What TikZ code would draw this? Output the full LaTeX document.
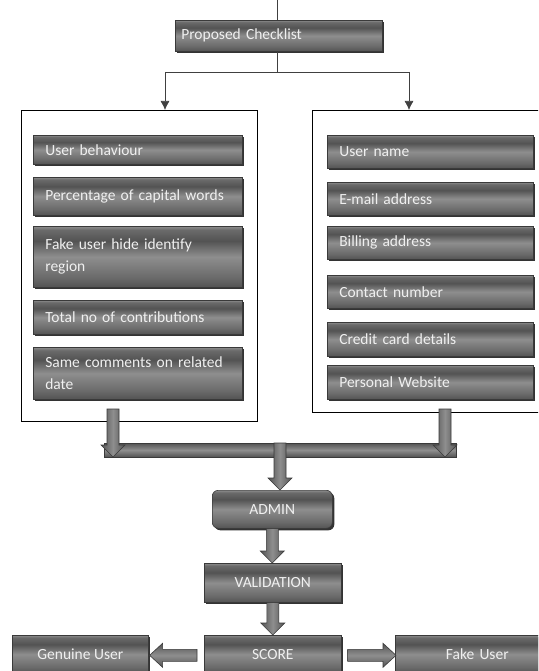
\documentclass[tikz,border=0pt]{standalone}
\usepackage{fontspec}
\setmainfont{Carlito}
\usetikzlibrary{calc,shadows,arrows.meta}
\definecolor{gdark}{HTML}{535353}
\definecolor{gmid}{HTML}{6A6A6A}
\definecolor{glight}{HTML}{8E8E8E}
\definecolor{gedge}{HTML}{3A3A3A}
\pgfdeclareverticalshading{glossy}{100bp}{color(0bp)=(gdark); color(25bp)=(gdark); color(33bp)=(gmid); color(50bp)=(glight); color(63bp)=(gdark); color(72bp)=(gmid); color(75bp)=(glight); color(100bp)=(glight)}
\pgfdeclarehorizontalshading{glossyh}{100bp}{color(0bp)=(gdark); color(25bp)=(gdark); color(50bp)=(glight); color(75bp)=(gdark); color(100bp)=(gdark)}
\pgfdeclareverticalshading{glossyv}{100bp}{color(0bp)=(gdark); color(25bp)=(gdark); color(50bp)=(glight); color(75bp)=(gdark); color(100bp)=(gdark)}
\tikzset{
  gbox/.style={draw=gedge, line width=0.6pt, shading=glossy, text=white!94!black,
    font=\fontsize{15.5}{22}\selectfont, inner xsep=0pt, inner ysep=0pt,
    general shadow={shadow xshift=2pt, shadow yshift=-2pt, fill=black!80}},
  lbox/.style={gbox, anchor=north west, minimum width=209pt, text width=185pt, align=left},
  rbox/.style={gbox, anchor=north west, minimum width=206pt, text width=182pt, align=left},
  cbox/.style={gbox, anchor=north west, align=center},
  container/.style={draw=black, line width=0.9pt},
  conn/.style={draw=black!75, line width=0.7pt},
  tip/.style={-{Latex[length=9pt,width=9pt]}},
  barrowv/.style={draw=gedge, line width=0.6pt, shading=glossyh},
  barrowh/.style={draw=gedge, line width=0.6pt, shading=glossyv},
}
% vertical block arrow from #1 down to #2 (same x as #1)
\newcommand{\varrow}[2]{%
  \path[barrowv] let \p1=(#1), \p2=(#2) in
    (\x1-6pt,\y1) -- (\x1+6pt,\y1) -- (\x1+6pt,\y2+12pt) -- (\x1+12pt,\y2+12pt)
    -- (\x1,\y2) -- (\x1-12pt,\y2+12pt) -- (\x1-6pt,\y2+12pt) -- cycle;}
% horizontal block arrow from #1 to #2 (same y as #1); #3 = +1 right, -1 left
\newcommand{\harrow}[3]{%
  \path[barrowh] let \p1=(#1), \p2=(#2) in
    (\x1,\y1+6pt) -- (\x2-#3*13pt,\y1+6pt) -- (\x2-#3*13pt,\y1+12pt) -- (\x2,\y1)
    -- (\x2-#3*13pt,\y1-12pt) -- (\x2-#3*13pt,\y1-6pt) -- (\x1,\y1-6pt) -- cycle;}
\begin{document}
\begin{tikzpicture}[x=1pt,y=-1pt]
\useasboundingbox (0,0) rectangle (538,671);
\clip (0,0) rectangle (538,671);
\fill[white] (0,0) rectangle (538,671);

% top
\coordinate (top) at (277,0);
\node[gbox, anchor=north west, minimum width=207pt, minimum height=31pt, text width=195pt, align=left] (pc) at (175,20) {Proposed Checklist};
\coordinate (split) at (277,72);
\coordinate (lsplit) at (165,72);
\coordinate (rsplit) at (409,72);
\draw[conn] (top) -- (top |- pc.north);
\draw[conn] (split |- pc.south) -- (split);
\draw[conn] (lsplit) -- (rsplit);

% containers
\draw[container] (21,110) rectangle (257,421);
\draw[container] (312,110) rectangle (545,412);
\coordinate (lc) at (165,110);
\coordinate (rc) at (409,110);
\draw[conn,tip] (lsplit) -- (lc);
\draw[conn,tip] (rsplit) -- (rc);

% left list
\node[lbox, minimum height=29pt] (l1) at (33,135) {User behaviour};
\node[lbox, minimum height=38pt] (l2) at (33,177) {Percentage of capital words};
\node[lbox, minimum height=61pt] (l3) at (33,226) {Fake user hide identify\\region};
\node[lbox, minimum height=34pt] (l4) at (33,300) {Total no of contributions};
\node[lbox, minimum height=52pt] (l5) at (33,347) {Same comments on related\\date};

% right list
\node[rbox, minimum height=33pt] (r1) at (327,135) {User name};
\node[rbox, minimum height=33pt] (r2) at (327,182) {E-mail address};
\node[rbox, minimum height=33pt] (r3) at (327,226) {Billing address};
\node[rbox, minimum height=33pt] (r4) at (327,275) {Contact number};
\node[rbox, minimum height=34pt] (r5) at (327,322) {Credit card details};
\node[rbox, minimum height=34pt] (r6) at (327,365) {Personal Website};

% merge bar
\path[barrowh] (104,443) rectangle (456,457);
\coordinate (la) at (113,409);
\coordinate (lb) at (113,457);
\coordinate (ra) at (445,409);
\coordinate (rb) at (445,457);
\varrow{la}{lb}
\varrow{ra}{rb}

% lower chain
\node[cbox, rounded corners=6pt, minimum width=120pt, minimum height=38pt] (admin) at (212,490) {ADMIN};
\node[cbox, minimum width=137pt, minimum height=39pt] (val) at (204,563) {VALIDATION};
\node[cbox, minimum width=137pt, minimum height=38pt] (score) at (204,635) {SCORE};
\node[cbox, minimum width=136pt, minimum height=38pt] (gen) at (12,635) {Genuine User};
\node[cbox, minimum width=164pt, minimum height=38pt, text width=136pt] (fake) at (395,635) {Fake User};

\coordinate (ca) at (280,443);
\varrow{ca}{admin.north -| ca}
\varrow{admin.south}{val.north}
\varrow{val.south}{score.north}
\harrow{$(score.west)+(-7pt,-1pt)$}{$(gen.east)+(1pt,-1pt)$}{-1}
\harrow{$(score.east)+(6pt,-1pt)$}{$(fake.west)+(1pt,-1pt)$}{1}
\end{tikzpicture}
\end{document}
